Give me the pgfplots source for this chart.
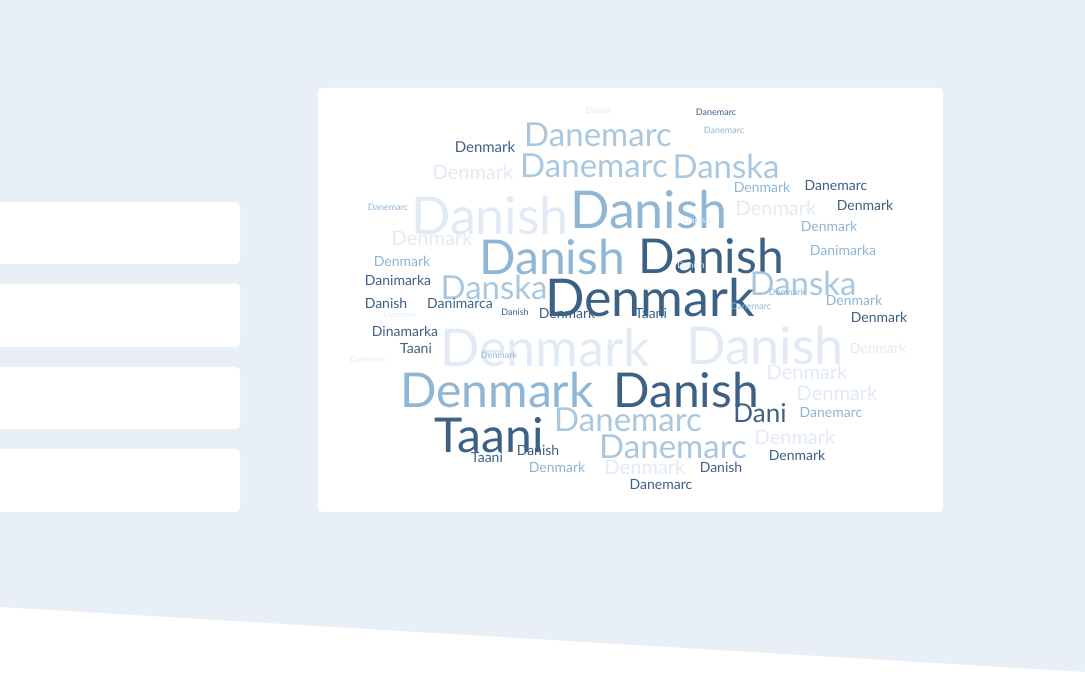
\documentclass[border=0pt]{standalone}
\usepackage{fontspec}
\setmainfont{Lato}
\usepackage{pgfplots}
\pgfplotsset{compat=1.18}
\definecolor{bg}{RGB}{232,239,246}
\definecolor{col0}{RGB}{61,97,133}
\definecolor{col1}{RGB}{143,182,213}
\definecolor{col2}{RGB}{169,200,224}
\definecolor{col3}{RGB}{226,235,245}
\begin{document}
\begin{tikzpicture}[x=1pt,y=1pt]
\fill[bg] (0,0) rectangle (1085,680);
\fill[white] (0,73) -- (1085,8) -- (1085,0) -- (0,0) -- cycle;
\fill[white,rounded corners=4pt] (318,168) rectangle (943,592);
\begin{scope}
\clip (0,0) rectangle (1085,680);
\foreach \t/\b in {202/264,284/347,367/429,449/512}{
  \fill[white,rounded corners=4pt] (-10,680-\b) rectangle (240,680-\t);}
\end{scope}
\begin{axis}[at={(0,0)},anchor=south west,scale only axis,width=1085pt,height=680pt,
  xmin=0,xmax=1085,ymin=0,ymax=680,y dir=reverse,hide axis,clip=false]
\addplot[draw=none,mark=none,nodes near coords,point meta=explicit symbolic,
  visualization depends on={\thisrow{s}\as\fs},
  visualization depends on={value \thisrow{c}\as\ci},
  nodes near coords style={anchor=center,inner sep=0pt,text=col\ci,
    font=\fontsize{\fs}{\fs}\selectfont}]
table[x=x,y=y,meta=w]{
x y s c w
598 111 8 3 Danish
716 112 9 0 Danemarc
724 130 9 1 Danemarc
598 135 33 2 Danemarc
485 147 15 0 Denmark
594 166 33 2 Danemarc
726 166 33 2 Danska
473 172 20 3 Denmark
762 187 14 1 Denmark
836 186 14 0 Danemarc
388 207 9 1 Danemarc
490 216 52 3 Danish
649 210 52 1 Danish
776 208 20 3 Denmark
865 205 14 0 Denmark
829 226 14 1 Denmark
697 220 9 3 Danish
432 238 20 3 Denmark
843 250 14 1 Danimarka
552 257 48 1 Danish
711 256 48 0 Danish
402 261 14 1 Denmark
691 265 9 3 Danish
398 280 14 0 Danimarka
494 287 33 2 Danska
803 283 33 2 Danska
650 298 52 0 Denmark
787 292 9 1 Denmark
854 300 14 1 Denmark
386 303 14 0 Danish
460 303 14 0 Danimarca
400 315 8 3 Denmark
515 312 9 0 Danish
567 313 14 0 Denmark
651 313 14 0 Taani
751 306 9 1 Danemarc
879 317 14 0 Denmark
405 331 14 0 Dinamarka
416 348 14 0 Taani
545 348 52 3 Denmark
765 346 52 3 Danish
878 348 14 3 Denmark
368 360 8 3 Danemarc
499 355 9 1 Denmark
497 390 48 1 Denmark
686 390 48 0 Danish
807 372 20 3 Denmark
837 393 20 3 Denmark
760 413 26 0 Dani
831 413 14 1 Danemarc
628 420 33 2 Danemarc
489 435 48 0 Taani
673 447 33 2 Danemarc
795 437 20 3 Denmark
538 450 14 0 Danish
487 457 14 0 Taani
797 455 14 0 Denmark
557 467 14 1 Denmark
645 467 20 3 Denmark
721 467 14 0 Danish
661 485 14 0 Danemarc
};
\end{axis}
\end{tikzpicture}
\end{document}
